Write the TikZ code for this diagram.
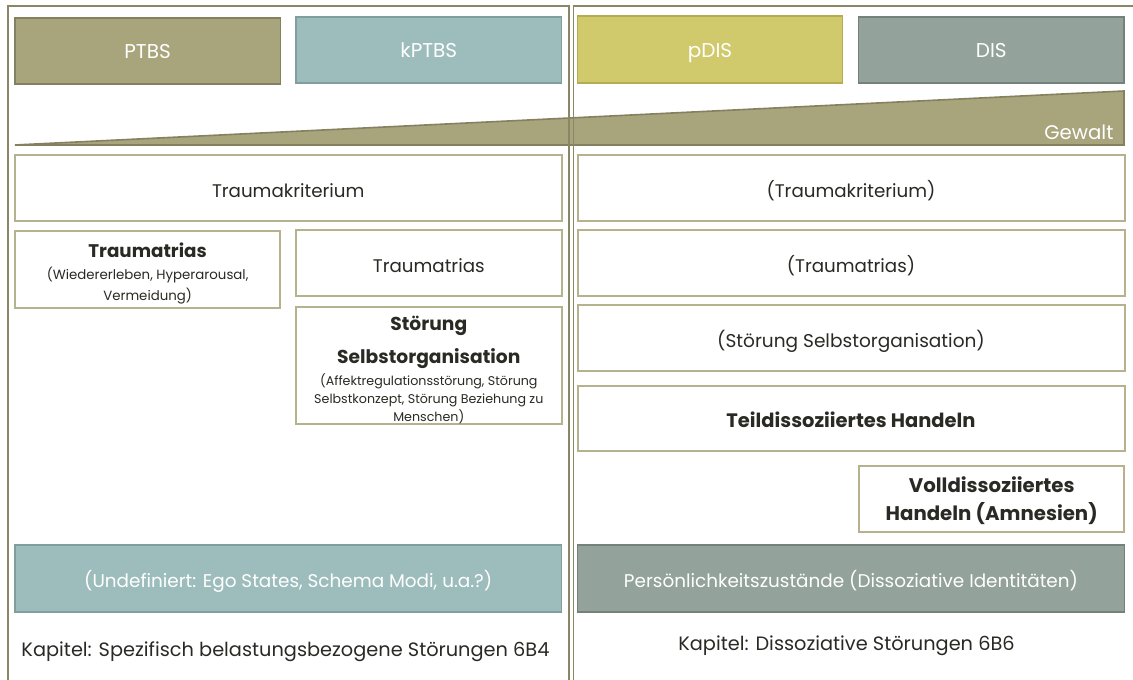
\documentclass[tikz,border=0pt]{standalone}
\usepackage{fontspec}
\setmainfont{Poppins}
\newlength\pxl \setlength\pxl{0.75pt}
\definecolor{olive}{HTML}{A8A47C}
\definecolor{oliveD}{HTML}{858160}
\definecolor{teal}{HTML}{9DBDBC}
\definecolor{tealD}{HTML}{7F9E9D}
\definecolor{ylw}{HTML}{D1CA6C}
\definecolor{ylwD}{HTML}{B3AC55}
\definecolor{grn}{HTML}{93A29A}
\definecolor{grnD}{HTML}{74827B}
\definecolor{wbord}{HTML}{B6B28D}
\definecolor{panelc}{HTML}{8A8666}
\definecolor{txt}{HTML}{2A2A24}
\begin{document}
\begin{tikzpicture}[x=\pxl,y=-\pxl,
  hdr/.style={draw=#1D, fill=#1, line width=1.2pt, text=white, inner sep=0pt, align=center,
    font=\fontsize{15}{18}\selectfont, text height=12pt, text depth=0pt},
  wbox/.style={draw=wbord, fill=white, line width=1.5pt, text=txt, inner sep=0pt, align=center,
    font=\fontsize{13.7}{16}\selectfont, text height=14.25pt, text depth=0pt},
  cbox/.style={hdr=#1, font=\fontsize{13.8}{16}\selectfont, text height=14.25pt},
  panel/.style={draw=panelc, line width=1.4pt},
  ktext/.style={text=txt, font=\fontsize{14.5}{17}\selectfont, inner sep=0pt, anchor=base}
]
\useasboundingbox (0,0) rectangle (1133,680);
% header boxes
\node[hdr=olive, minimum width=265.6\pxl, minimum height=66\pxl] (ptbs) at (147.6,51) {PTBS};
\node[hdr=teal, minimum width=265.6\pxl, minimum height=66\pxl] (kptbs) at (428.8,50) {kPTBS};
\node[hdr=ylw, minimum width=265\pxl, minimum height=67\pxl] (pdis) at (710,49.5) {pDIS};
\node[hdr=grn, minimum width=265.4\pxl, minimum height=66\pxl] (dis) at (991.3,50) {DIS};
% wedge
\draw[draw=oliveD, fill=olive, line width=1.2pt] (14.8,145) -- (1124,91) -- (1124,145) -- cycle;
\node[anchor=base east, text=white, inner sep=0pt, font=\fontsize{14.8}{17}\selectfont] (gewalt) at (1113.7,140) {Gewalt};
% panels
\draw[panel] (8,700) -- (8,6) -- (569,6) -- (569,700);
\draw[panel] (573.5,700) -- (573.5,6) -- (1140,6);
% left column
\node[wbox, minimum width=546.8\pxl, minimum height=66\pxl] (tk) at (288.2,188) {Traumakriterium};
\node[wbox, minimum width=265.6\pxl, minimum height=77\pxl, text height=0pt, text depth=17.25pt] (tt1) at (147.6,269.5)
  {\parbox[t]{255\pxl}{\centering\lineskiplimit=-\maxdimen
   \fontsize{13.7}{16}\selectfont\bfseries Traumatrias\\[-0.25pt]
   \fontsize{10}{16.1}\selectfont\mdseries (Wiedererleben, Hyperarousal,\\Vermeidung)}};
\node[wbox, minimum width=265.6\pxl, minimum height=66\pxl] (tt2) at (428.8,263) {Traumatrias};
\node[wbox, minimum width=265.6\pxl, minimum height=117\pxl, text height=0pt, text depth=51.75pt] (sso) at (428.8,365.5)
  {\parbox[t]{258\pxl}{\centering\lineskiplimit=-\maxdimen
   \fontsize{14}{17}\selectfont\bfseries Störung\\[7.5pt]Selbstorganisation\\[2.6pt]
   \fontsize{9.5}{13.7}\selectfont\mdseries (Affektregulationsstörung, Störung\\Selbstkonzept, Störung Beziehung zu\\Menschen)}};
\node[cbox=teal, minimum width=546.8\pxl, minimum height=67\pxl] (undef) at (288.2,578.5) {(Undefiniert: Ego States, Schema Modi, u.a.?)};
\node[ktext] (kap1) at (285.5,656.5) {Kapitel: Spezifisch belastungsbezogene Störungen 6B4};
% right column
\node[wbox, minimum width=547\pxl, minimum height=66\pxl] (rtk) at (851,188) {(Traumakriterium)};
\node[wbox, minimum width=547\pxl, minimum height=66\pxl] (rtt) at (851,263) {(Traumatrias)};
\node[wbox, minimum width=547\pxl, minimum height=66\pxl, font=\fontsize{13.9}{16}\selectfont] (rsso) at (851,338) {(Störung Selbstorganisation)};
\node[wbox, minimum width=547\pxl, minimum height=65\pxl, font=\fontsize{14.6}{17}\selectfont\bfseries] (teil) at (851,418.5) {Teildissoziiertes Handeln};
\node[wbox, minimum width=265.4\pxl, minimum height=66\pxl, text height=0pt, text depth=9pt] (voll) at (991.7,499)
  {\parbox[t]{258\pxl}{\centering\lineskiplimit=-\maxdimen
   \fontsize{14.8}{20.5}\selectfont\bfseries Volldissoziiertes\\Handeln (Amnesien)}};
\node[cbox=grn, minimum width=547\pxl, minimum height=67\pxl] (pers) at (851,578.5) {Persönlichkeitszustände (Dissoziative Identitäten)};
\node[ktext] (kap2) at (846.5,650.7) {Kapitel: Dissoziative Störungen 6B6};
\end{tikzpicture}
\end{document}
